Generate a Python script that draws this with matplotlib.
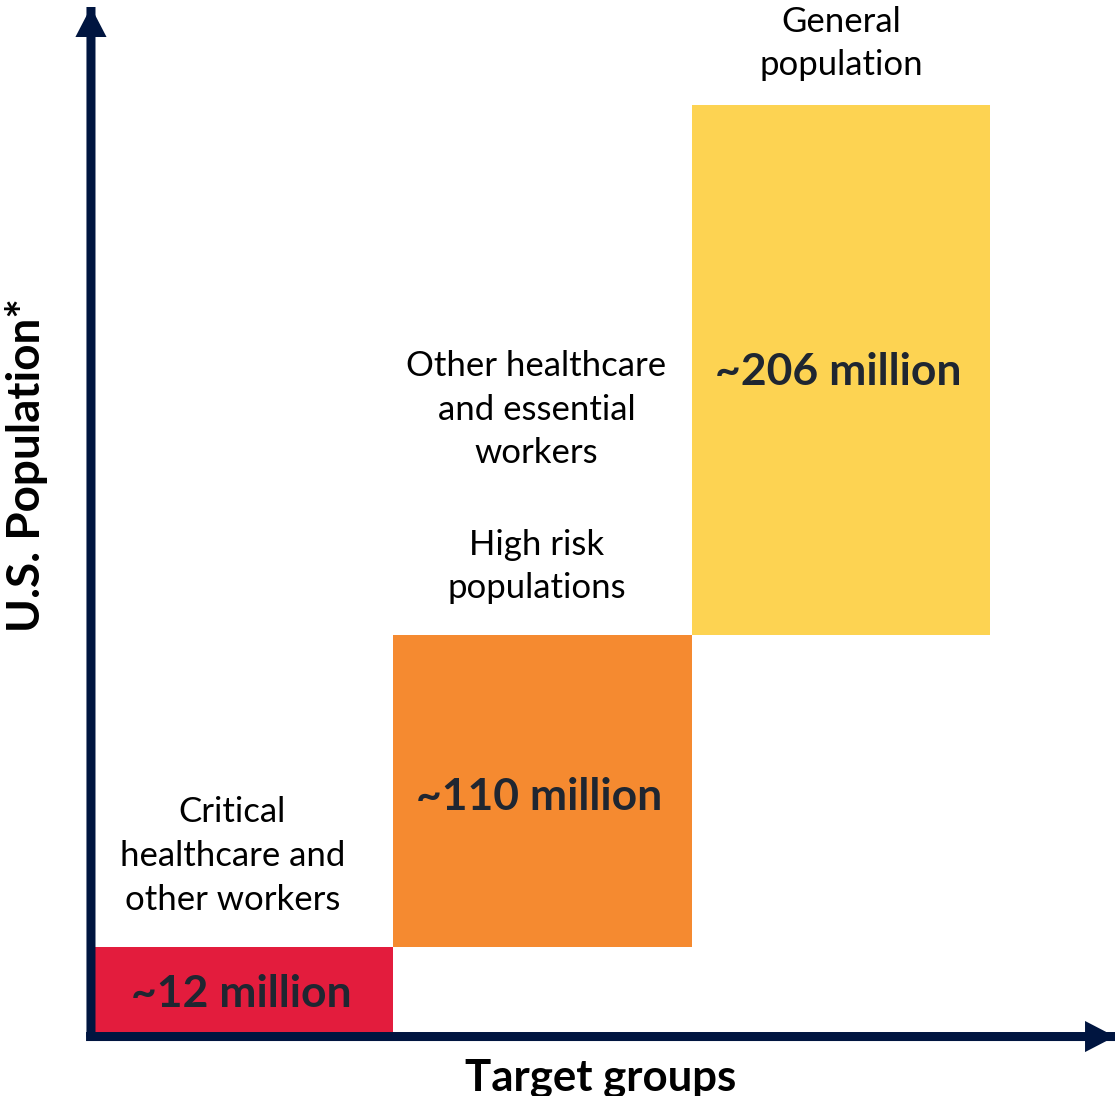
import matplotlib
matplotlib.use('Agg')
import matplotlib.pyplot as plt

plt.rcParams['font.family'] = ['Lato', 'DejaVu Sans']

# bar data (heights, arbitrary units)
groups = ['Critical\nhealthcare and\nother workers',
          'High risk\npopulations',
          'General\npopulation']
extra_label = 'Other healthcare\nand essential\nworkers'
values = ['~12 million', '~110 million', '~206 million']
heights = [12, 43.5, 74]
bottoms = [0, 12, 55.5]
colors = ['#E31C3D', '#F58A30', '#FDD352']
navy = '#001540'

fig = plt.figure(figsize=(11.15, 10.96), dpi=100)
ax = fig.add_axes([95/1115, 63/1096, 895/1115, 928/1096])
ax.set_xlim(0, 3)
ax.set_ylim(0, 129.5)
ax.axis('off')

x = [0, 1, 2]
ax.bar(x, heights, bottom=bottoms, width=1.0, align='edge', color=colors, clip_on=False)

# value labels inside the bars
val_y = [5.4, 32.9, 92.3]
for i in range(3):
    ax.text(x[i] + 0.49, val_y[i], values[i], ha='center', va='center',
            fontsize=32, fontweight='bold', color='#1F2631')

# group labels
lab = dict(ha='center', va='center', fontsize=25, linespacing=1.45, clip_on=False)
ax.text(0.46, 24.7, groups[0], **lab)
ax.text(1.48, 65.1, groups[1], **lab)
ax.text(1.48, 87.0, extra_label, **lab)
ax.text(2.5, 138.1, groups[2], **lab)

# axes arrows: shaft + filled head
def axis_arrow(start, tip):
    ax.annotate('', xy=tip, xytext=start, xycoords='axes fraction',
                textcoords='axes fraction', annotation_clip=False,
                arrowprops=dict(arrowstyle='-', color=navy, lw=6.5,
                                shrinkA=0, shrinkB=0, capstyle='butt'))
    ax.annotate('', xy=tip, xytext=start, xycoords='axes fraction',
                textcoords='axes fraction', annotation_clip=False,
                arrowprops=dict(arrowstyle='-|>,head_length=1.08,head_width=0.56',
                                color=navy, lw=0, mutation_scale=20,
                                shrinkA=0, shrinkB=0))

axis_arrow((-0.0045, -0.0045), (-0.0045, 1.1056))
axis_arrow((-0.01, -0.0038), (1.1397, -0.0038))

fig.text(601/1115, 1 - 1078/1096, 'Target groups', ha='center', va='center',
         fontsize=31.5, fontweight='bold')
fig.text(27/1115, 1 - 465/1096, 'U.S. Population*', ha='center', va='center',
         fontsize=33, fontweight='bold', rotation=90)

fig.savefig('out.png', dpi=100)
